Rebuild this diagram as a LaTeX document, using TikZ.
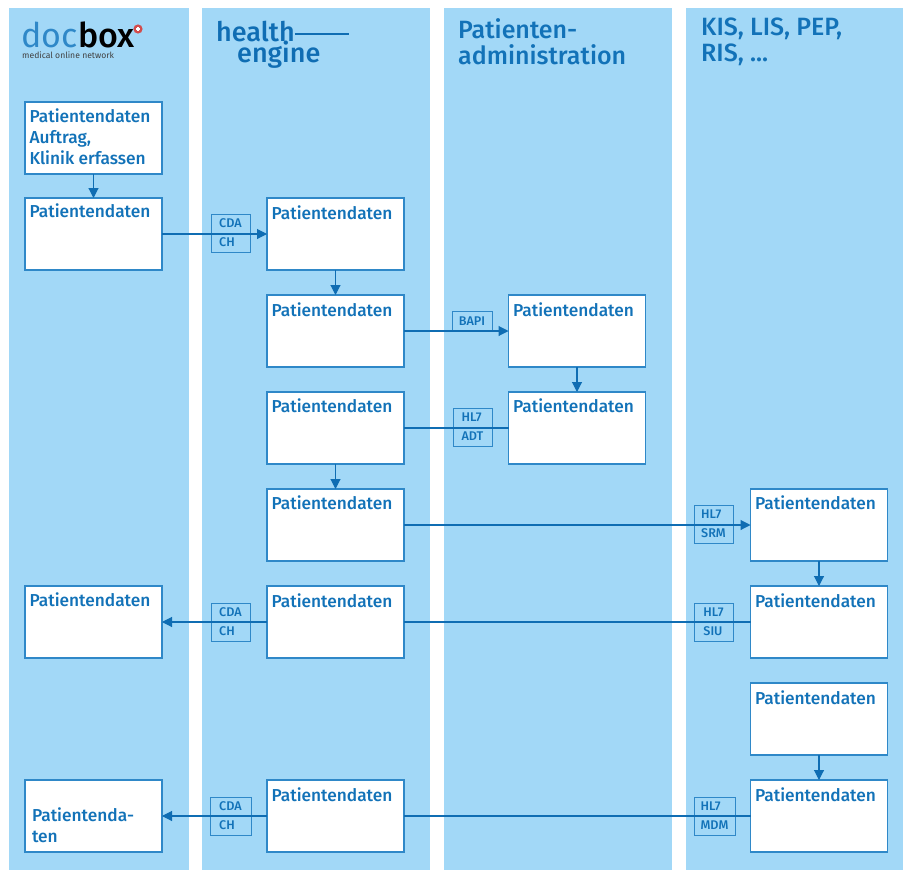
\documentclass[tikz,border=0pt]{standalone}
\usepackage{fontspec}
\setmainfont{Fira Sans Medium}
\newfontfamily\logofont{Fira Sans}
\usetikzlibrary{arrows.meta}
\definecolor{band}{HTML}{A2D8F7}
\definecolor{ink}{HTML}{1272B8}
\definecolor{edge}{HTML}{2F88C8}
\definecolor{arrowc}{HTML}{0F6DB3}
\newcommand{\bxt}[3][20.5pt]{\parbox[c][72pt][t]{137pt}{\parindent=0pt\leftskip=#2\rightskip=0pt plus 1fil\baselineskip=21pt\fontsize{17.3}{21}\selectfont\baselineskip=21pt\rule{0pt}{#1}#3\par}}
\tikzset{
  x=1pt,y=-1pt,
  bandfill/.style={fill=band,draw=none},
  pbox/.style={draw=edge,fill=white,line width=1.4pt,inner sep=0pt,outer sep=0pt,text=ink},
  tagbox/.style={draw=edge,line width=1pt,inner sep=0pt,outer sep=0pt,text=ink,align=left,font=\fontsize{12.6}{19}\selectfont,minimum height=38pt,anchor=center},
  head/.style={text=ink,anchor=north west,align=left,inner sep=0pt,font=\fontsize{25}{26}\selectfont},
  conn/.style={draw=arrowc,line width=1.1pt},
  arr/.style={conn,-{Triangle[width=10pt,length=10pt]}},
}
\begin{document}
\begin{tikzpicture}
\useasboundingbox (0,0) rectangle (903,870);
\fill[bandfill] (9,8) rectangle (189,870);
\fill[bandfill] (202,8) rectangle (430,870);
\fill[bandfill] (444,8) rectangle (672,870);
\fill[bandfill] (686,8) rectangle (903,870);
% logos
\node[anchor=base west,inner sep=0pt,text=edge,font=\logofont\fontsize{34}{34}\selectfont] (ldoc) at (21,47) {doc};
\node[anchor=base west,inner sep=0pt,text=black,font=\fontsize{34}{34}\selectfont] (lbox) at (ldoc.base east) {box};
\node[anchor=base west,inner sep=0pt,text=black!75,font=\logofont\fontsize{8.6}{9}\selectfont] (lnet) at (22,58) {medical online network};
\fill[red!75!black!70!white] (138,29) circle (4.6);
\fill[white] (135.6,28.1) rectangle (140.4,29.9);
\fill[white] (137.1,26.6) rectangle (138.9,31.4);
\node[anchor=base west,inner sep=0pt,text=arrowc,font=\fontsize{27}{27}\selectfont] (lhealth) at (216,41) {health};
\node[anchor=base west,inner sep=0pt,text=arrowc,font=\fontsize{27}{27}\selectfont] (lengine) at (237,62) {engine};
\coordinate (lend) at (349,34);
\draw[arrowc,line width=2.6pt] (lhealth.east |- lend) -- (lend);
% headings
\node[head] (h3) at (458,18) {Patienten-\\administration};
\node[head] (h4) at (701,18) {KIS, LIS, PEP,\\RIS, ...};
% boxes column 1
\node[pbox] (a1) at (93.5,138) {\bxt{4.5pt}{Patientendaten\\Auftrag,\\Klinik erfassen}};
\node[pbox] (a2) at (93.5,234) {\bxt[19pt]{4.5pt}{Patientendaten}};
\node[pbox] (a3) at (93.5,622) {\bxt[20pt]{4.5pt}{Patientendaten}};
\node[pbox] (a4) at (93.5,816) {\bxt[41pt]{7pt}{Patientenda-\\ten}};
% column 2
\node[pbox] (b1) at (335.5,234) {\bxt[21pt]{4.5pt}{Patientendaten}};
\node[pbox] (b2) at (335.5,331) {\bxt[21pt]{4.5pt}{Patientendaten}};
\node[pbox] (b3) at (335.5,428) {\bxt[20pt]{4.5pt}{Patientendaten}};
\node[pbox] (b4) at (335.5,525) {\bxt[20pt]{4.5pt}{Patientendaten}};
\node[pbox] (b5) at (335.5,622) {\bxt[21pt]{4.5pt}{Patientendaten}};
\node[pbox] (b6) at (335.5,816) {\bxt[21pt]{4.5pt}{Patientendaten}};
% column 3
\node[pbox] (c1) at (577,331) {\bxt[21pt]{4.5pt}{Patientendaten}};
\node[pbox] (c2) at (577,428) {\bxt[20pt]{4.5pt}{Patientendaten}};
% column 4
\node[pbox] (d1) at (819,525) {\bxt[20pt]{4.5pt}{Patientendaten}};
\node[pbox] (d2) at (819,622) {\bxt[21pt]{4.5pt}{Patientendaten}};
\node[pbox] (d3) at (819,719) {\bxt[21pt]{4.5pt}{Patientendaten}};
\node[pbox] (d4) at (819,816) {\bxt[21pt]{4.5pt}{Patientendaten}};
% tags
\node[tagbox,minimum width=39pt] (t1) at (230.5,233) {CDA\\CH};
\node[tagbox,minimum width=40pt,minimum height=19pt,font=\fontsize{12.6}{14}\selectfont] (t2) at (472,321) {BAPI};
\node[tagbox,minimum width=39pt] (t3) at (472.5,427) {HL7\\ADT};
\node[tagbox,minimum width=39pt] (t4) at (713.5,524) {HL7\\SRM};
\node[tagbox,minimum width=39pt] (t5) at (230.5,622) {CDA\\CH};
\node[tagbox,minimum width=39pt] (t6) at (713.5,622) {HL7\\SIU};
\node[tagbox,minimum width=41pt] (t7) at (230.5,816) {CDA\\CH};
\node[tagbox,minimum width=41pt] (t8) at (714.5,816) {HL7\\MDM};
% connectors
\draw[arr] (a1) -- (a2);
\draw[arr] (a2) -- (b1);
\draw[arr] (b1) -- (b2);
\draw[arr] (b2) -- (c1);
\draw[arr] (c1) -- (c2);
\draw[conn] (b3) -- (c2);
\draw[arr] (b3) -- (b4);
\draw[arr] (b4) -- (d1);
\draw[arr] (d1) -- (d2);
\draw[conn] (b5) -- (d2);
\draw[arr] (b5) -- (a3);
\draw[arr] (d3) -- (d4);
\draw[conn] (b6) -- (d4);
\draw[arr] (b6) -- (a4);
\end{tikzpicture}
\end{document}
